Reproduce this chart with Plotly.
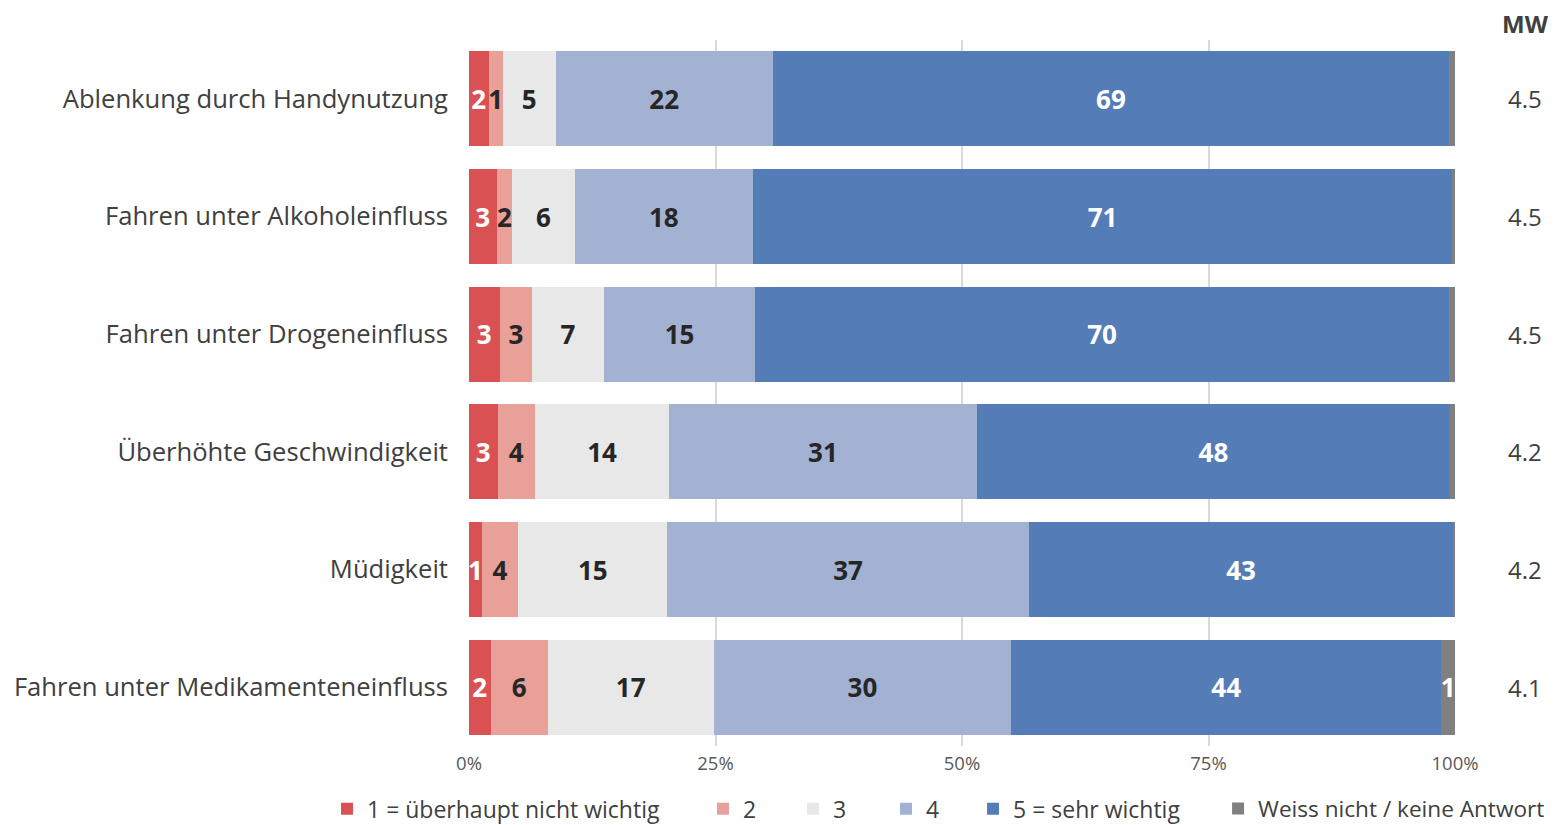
import plotly.graph_objects as go

categories = [
    "Ablenkung durch Handynutzung",
    "Fahren unter Alkoholeinfluss",
    "Fahren unter Drogeneinfluss",
    "Überhöhte Geschwindigkeit",
    "Müdigkeit",
    "Fahren unter Medikamenteneinfluss",
]
series_names = [
    "1 = überhaupt nicht wichtig",
    "2",
    "3",
    "4",
    "5 = sehr wichtig",
    "Weiss nicht / keine Antwort",
]
v1 = [2.0, 2.8, 3.1, 2.9, 1.3, 2.2]
v2 = [1.4, 1.6, 3.3, 3.8, 3.7, 5.8]
v3 = [5.4, 6.3, 7.3, 13.6, 15.1, 16.8]
v4 = [22.0, 18.1, 15.3, 31.2, 36.7, 30.2]
v5 = [68.6, 70.9, 70.4, 48.0, 43.0, 43.6]
v6 = [0.6, 0.3, 0.6, 0.5, 0.2, 1.4]
mw = ["4.5", "4.5", "4.5", "4.2", "4.2", "4.1"]
tick_vals = [0, 25, 50, 75, 100]
tick_text = ["0%", "25%", "50%", "75%", "100%"]

series_values = [v1, v2, v3, v4, v5, v6]
colors = ["#D95152", "#E8A099", "#E8E8E8", "#A3B2D3", "#547DB8", "#808080"]
text_colors = ["white", "#262626", "#262626", "#262626", "white", "white"]
# horizontal placement (paper units) of each legend entry, to mimic the reference spacing
legend_pos = [-0.1440, 0.2373, 0.3286, 0.4229, 0.5112, 0.7597]
legend_font = [23, 23, 23, 23, 23, 22.6]

FONT = "Open Sans"

fig = go.Figure()
legend_layout = {}
for i, (name, vals, col, tcol) in enumerate(zip(series_names, series_values, colors, text_colors)):
    labels = [str(int(round(v))) if v >= 1 else "" for v in vals]
    lname = "legend" if i == 0 else f"legend{i + 1}"
    fig.add_trace(go.Bar(
        y=categories, x=vals, name=name, orientation="h",
        legend=lname,
        marker=dict(color=col, line=dict(width=0)),
        text=labels, textposition="inside", insidetextanchor="middle",
        textangle=0, constraintext="none",
        textfont=dict(color=tcol, size=26, family=FONT, weight="bold"),
        hoverinfo="x+y+name",
    ))
    legend_layout[lname] = dict(
        orientation="h", xref="paper", yref="paper",
        x=legend_pos[i], xanchor="left", y=-0.089, yanchor="middle",
        bgcolor="rgba(0,0,0,0)",
        font=dict(size=legend_font[i], color="#404040", family=FONT),
        itemwidth=30,
    )

for cat, m in zip(categories, mw):
    fig.add_annotation(x=1.071, xref="paper", xanchor="center", y=cat, yref="y", text=m,
                       showarrow=False, font=dict(size=24, color="#404040", family=FONT))
fig.add_annotation(x=1.071, xref="paper", xanchor="center", y=1.024, yref="paper",
                   yanchor="middle", text="<b>MW</b>", showarrow=False,
                   font=dict(size=24, color="#404040", family=FONT))

fig.update_layout(
    barmode="stack", bargap=0.19,
    width=1552, height=817,
    margin=dict(l=461, r=105, t=32, b=79, autoexpand=False),
    plot_bgcolor="white", paper_bgcolor="white",
    font=dict(family=FONT, color="#404040"),
    uniformtext=dict(minsize=26, mode="show"),
    xaxis=dict(range=[0, 100], tickvals=tick_vals, ticktext=tick_text,
               showgrid=True, gridcolor="#D9D9D9", gridwidth=1.5, zeroline=False,
               tickfont=dict(size=18.5, color="#595959", family=FONT),
               ticklabelstandoff=4,
               automargin=False, fixedrange=True),
    yaxis=dict(autorange="reversed", showgrid=False, ticks="", ticklabelstandoff=20,
               tickfont=dict(size=25.6, color="#404040", family=FONT),
               automargin=False),
    showlegend=True,
    **legend_layout,
)

fig.write_html("out.html")
